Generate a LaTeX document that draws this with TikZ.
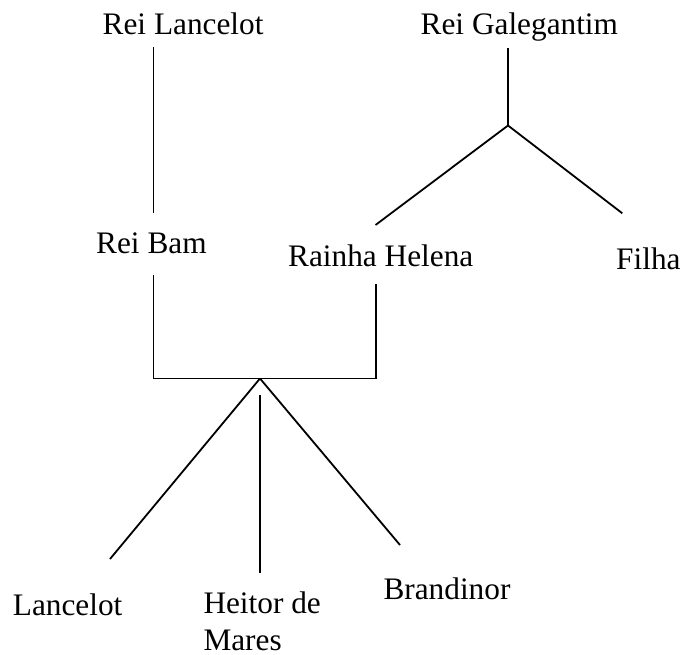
\documentclass[tikz,border=0pt]{standalone}
\usepackage{fontspec}
\setmainfont{Liberation Serif}
\usepackage{tikz}
\tikzset{
  person/.style={inner sep=0pt, anchor=base west,
                 font=\fontsize{31.3}{36.7}\selectfont},
  link/.style={line width=1.8pt, color=black},
}
\begin{document}
\begin{tikzpicture}[x=1pt, y=-1pt]
        \useasboundingbox (0,0) rectangle (680,654);
        % names
        \node[person] (reiLancelot) at (102.5,34.3) {Rei Lancelot};
        \node[person] (reiGalegantim) at (420.5,34.3) {Rei Galegantim};
        \node[person] (reiBam) at (96,253.3) {Rei Bam};
        \node[person] (rainhaHelena) at (288,266.7) {Rainha Helena};
        \node[person] (filha) at (616,269) {Filha};
        \node[person] (lancelot) at (12.7,615) {Lancelot};
        \node[person, anchor=north west, align=left] (heitor) at (203.3,592) {Heitor de\\Mares};
        \node[person] (brandinor) at (383.3,599) {Brandinor};
        % line ends
        \coordinate (lanTop) at (153.5,47);
        \coordinate (lanBot) at (153.5,213);
        \coordinate (galTop) at (508,48);
        \coordinate (galJoin) at (508,125.5);
        \coordinate (helenaUp) at (375.5,225);
        \coordinate (filhaUp) at (622.3,213.3);
        \coordinate (bamDown) at (153.5,275);
        \coordinate (helenaDown) at (375.7,284);
        \coordinate (bamCorner) at (153.5,378.5);
        \coordinate (helenaCorner) at (375.7,378.5);
        \coordinate (kids) at (260,378.5);
        \coordinate (lanKid) at (110,559);
        \coordinate (heitorTop) at (260,395);
        \coordinate (heitorKid) at (260,573.3);
        \coordinate (brandKid) at (400,545);
        \draw[link] (lanTop) -- (lanBot);
        \draw[link] (galTop) -- (galJoin);
        \draw[link] (galJoin) -- (helenaUp);
        \draw[link] (galJoin) -- (filhaUp);
        \draw[link] (bamDown) -- (bamCorner) -- (helenaCorner) -- (helenaDown);
        \draw[link] (kids) -- (lanKid);
        \draw[link] (heitorTop) -- (heitorKid);
        \draw[link] (kids) -- (brandKid);
      \end{tikzpicture}
\end{document}
